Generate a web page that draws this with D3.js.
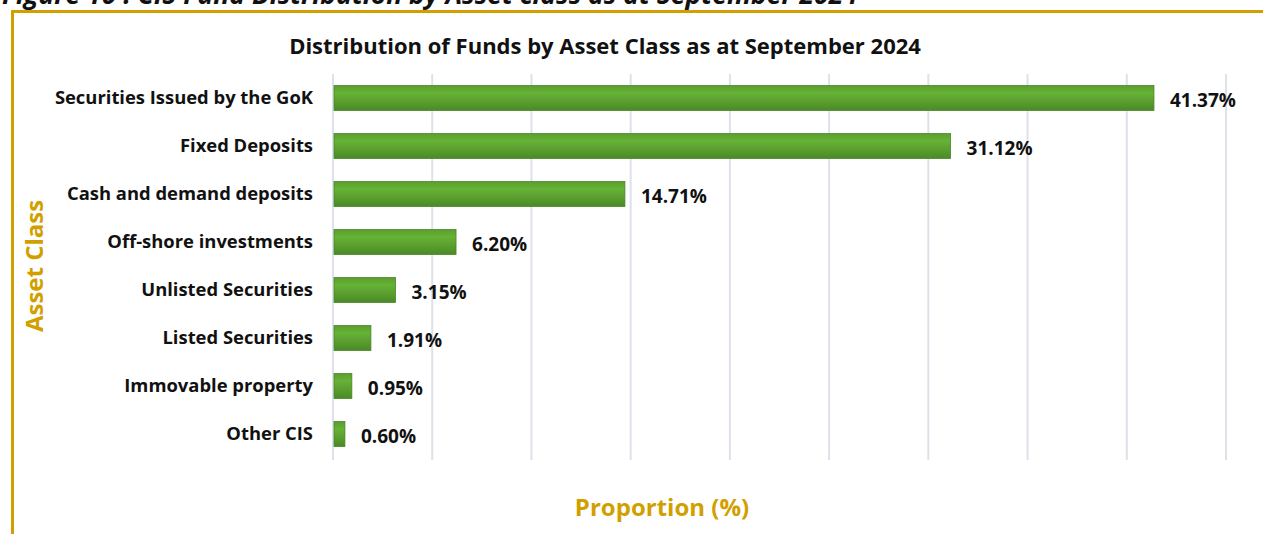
<!DOCTYPE html>
<html><head><meta charset="utf-8">
<script src="https://cdn.jsdelivr.net/npm/d3@7"></script>
<style>body{margin:0;background:#fff;}svg{display:block;}</style>
</head><body><svg id="c" width="1263" height="534"></svg>
<script>
const categories = ["Securities Issued by the GoK","Fixed Deposits","Cash and demand deposits","Off-shore investments","Unlisted Securities","Listed Securities","Immovable property","Other CIS"];
const values = [41.37,31.12,14.71,6.20,3.15,1.91,0.95,0.60];
const valueLabels = ["41.37%","31.12%","14.71%","6.20%","3.15%","1.91%","0.95%","0.60%"];
const gridTicks = [0,5,10,15,20,25,30,35,40,45];

const svg = d3.select("#c");
const gold = "#d29f00";
const font = "'Open Sans', 'Noto Sans', sans-serif";

const defs = svg.append("defs");
const g = defs.append("linearGradient").attr("id","bg").attr("x1",0).attr("y1",0).attr("x2",0).attr("y2",1);
g.append("stop").attr("offset","0%").attr("stop-color","#5a9e30");
g.append("stop").attr("offset","30%").attr("stop-color","#66b236");
g.append("stop").attr("offset","100%").attr("stop-color","#4b8a26");

// figure caption (clipped at top, as in the source page)
svg.append("text").attr("x",2).attr("y",4).attr("font-family",font).attr("font-weight","bold")
  .attr("font-style","italic").attr("font-size",26.5).attr("fill","#111")
  .text("Figure 10 : CIS Fund Distribution by Asset class as at September 2024");

// frame
svg.append("path").attr("d","M12.5,534 V11.5 H1263").attr("fill","none").attr("stroke",gold).attr("stroke-width",3);

const x = d3.scaleLinear().domain([0,45]).range([333,1226]);
const y = d3.scaleBand().domain(categories).range([74,458]).paddingInner(0.48).paddingOuter(0.24);

// gridlines
svg.append("g").selectAll("line").data(gridTicks).join("line")
  .attr("x1",d=>x(d)).attr("x2",d=>x(d)).attr("y1",74).attr("y2",460)
  .attr("stroke","#dde1ea").attr("stroke-width",2);

// bars
svg.append("g").selectAll("rect").data(values).join("rect")
  .attr("x",x(0)+1).attr("y",(d,i)=>y(categories[i]))
  .attr("width",d=>x(d)-x(0)-1).attr("height",y.bandwidth())
  .attr("fill","url(#bg)").attr("stroke","#4a8526").attr("stroke-width",0.8);

// category labels
svg.append("g").selectAll("text").data(categories).join("text")
  .attr("x",313).attr("y",d=>y(d)+y.bandwidth()/2).attr("dy","0.35em")
  .attr("text-anchor","end").attr("font-family",font).attr("font-weight","bold")
  .attr("font-size",18.4).attr("fill","#111").text(d=>d);

// value labels
svg.append("g").selectAll("text").data(values).join("text")
  .attr("x",d=>x(d)+16).attr("y",(d,i)=>y(categories[i])+y.bandwidth()/2+2).attr("dy","0.35em")
  .attr("font-family",font).attr("font-weight","bold")
  .attr("font-size",19).attr("fill","#111").text((d,i)=>valueLabels[i]);

// title
svg.append("text").attr("x",605).attr("y",54).attr("text-anchor","middle")
  .attr("font-family",font).attr("font-weight","bold").attr("font-size",22).attr("fill","#111")
  .text("Distribution of Funds by Asset Class as at September 2024");

// axis titles
svg.append("text").attr("transform","translate(43,266) rotate(-90)").attr("text-anchor","middle")
  .attr("font-family",font).attr("font-weight","bold").attr("font-size",24).attr("fill",gold)
  .text("Asset Class");
svg.append("text").attr("x",662).attr("y",516).attr("text-anchor","middle")
  .attr("font-family",font).attr("font-weight","bold").attr("font-size",24).attr("fill",gold)
  .text("Proportion (%)");
</script></body></html>
